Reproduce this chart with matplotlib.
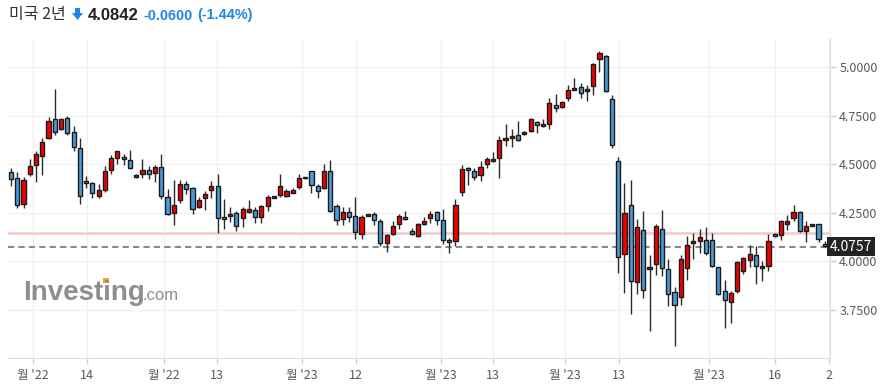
import numpy as np
import matplotlib
matplotlib.use("Agg")
import matplotlib.pyplot as plt
from matplotlib.patches import Polygon, Rectangle
import matplotlib.transforms as mtransforms

plt.rcParams['font.family'] = ['Noto Sans CJK KR', 'DejaVu Sans']

# daily OHLC
opens = [4.458, 4.427, 4.294, 4.448, 4.494, 4.544, 4.633, 4.731, 4.680, 4.736,
         4.664, 4.582, 4.414, 4.402, 4.338, 4.366, 4.469, 4.530, 4.536, 4.520,
         4.433, 4.448, 4.469, 4.453, 4.484, 4.330, 4.248, 4.314, 4.397, 4.376,
         4.278, 4.325, 4.366, 4.386, 4.227, 4.234, 4.247, 4.222, 4.256, 4.264,
         4.227, 4.285, 4.325, 4.340, 4.335, 4.354, 4.383, 4.428, 4.464, 4.388,
         4.376, 4.464, 4.283, 4.217, 4.253, 4.232, 4.139, 4.234, 4.242, 4.206,
         4.093, 4.139, 4.191, 4.227, 4.155, 4.129, 4.191, 4.222, 4.253, 4.211,
         4.108, 4.103, 4.356, 4.479, 4.465, 4.443, 4.500, 4.515, 4.530, 4.623,
         4.633, 4.649, 4.654, 4.669, 4.716, 4.695, 4.705, 4.803, 4.793, 4.839,
         4.880, 4.896, 4.875, 4.901, 5.040, 5.055, 4.834, 4.515, 4.036, 4.289,
         3.893, 4.160, 3.959, 3.985, 4.165, 3.959, 3.841, 3.815, 3.964, 4.093,
         4.103, 4.108, 4.108, 3.970, 3.846, 3.790, 3.846, 3.949, 4.006, 4.031,
         3.964, 3.975, 4.139, 4.134, 4.191, 4.222, 4.253, 4.155, 4.180, 4.191,
         4.088, 4.124]
highs = [4.479, 4.461, 4.434, 4.525, 4.568, 4.633, 4.744, 4.885, 4.740, 4.750,
         4.698, 4.633, 4.441, 4.410, 4.400, 4.489, 4.547, 4.569, 4.551, 4.572,
         4.448, 4.525, 4.489, 4.494, 4.551, 4.371, 4.417, 4.417, 4.412, 4.381,
         4.330, 4.361, 4.412, 4.448, 4.319, 4.278, 4.259, 4.278, 4.314, 4.278,
         4.292, 4.340, 4.335, 4.450, 4.371, 4.376, 4.450, 4.430, 4.464, 4.397,
         4.500, 4.520, 4.294, 4.281, 4.278, 4.330, 4.237, 4.244, 4.253, 4.217,
         4.139, 4.206, 4.242, 4.258, 4.170, 4.196, 4.227, 4.261, 4.258, 4.271,
         4.119, 4.319, 4.494, 4.487, 4.482, 4.515, 4.536, 4.561, 4.644, 4.705,
         4.680, 4.722, 4.669, 4.740, 4.721, 4.731, 4.839, 4.860, 4.823, 4.906,
         4.942, 4.916, 4.906, 5.019, 5.081, 5.060, 4.854, 4.536, 4.402, 4.417,
         4.216, 4.258, 4.031, 4.191, 4.263, 4.011, 3.867, 4.031, 4.129, 4.144,
         4.165, 4.175, 4.144, 3.970, 3.903, 3.846, 4.001, 4.021, 4.083, 4.078,
         4.001, 4.139, 4.144, 4.211, 4.237, 4.289, 4.258, 4.206, 4.191, 4.191,
         4.103, 4.124]
lows = [4.388, 4.273, 4.273, 4.439, 4.409, 4.444, 4.631, 4.650, 4.675, 4.650,
        4.569, 4.295, 4.376, 4.325, 4.325, 4.356, 4.448, 4.501, 4.494, 4.474,
        4.427, 4.427, 4.422, 4.407, 4.319, 4.240, 4.186, 4.299, 4.345, 4.242,
        4.273, 4.263, 4.325, 4.145, 4.165, 4.203, 4.156, 4.175, 4.247, 4.196,
        4.198, 4.259, 4.325, 4.333, 4.330, 4.351, 4.374, 4.426, 4.351, 4.325,
        4.371, 4.253, 4.187, 4.189, 4.201, 4.115, 4.115, 4.232, 4.186, 4.078,
        4.047, 4.134, 4.165, 4.211, 4.134, 4.124, 4.186, 4.198, 4.186, 4.088,
        4.042, 4.078, 4.338, 4.391, 4.417, 4.412, 4.479, 4.511, 4.427, 4.592,
        4.587, 4.618, 4.649, 4.664, 4.659, 4.690, 4.680, 4.767, 4.788, 4.823,
        4.880, 4.839, 4.823, 4.854, 4.973, 4.870, 4.582, 3.942, 3.836, 3.728,
        3.831, 3.810, 3.640, 3.928, 3.923, 3.769, 3.563, 3.774, 3.903, 4.011,
        4.042, 4.031, 3.970, 3.826, 3.656, 3.682, 3.836, 3.934, 3.970, 3.882,
        3.897, 3.949, 4.124, 4.108, 4.160, 4.206, 4.150, 4.098, 4.180, 4.098,
        4.074, 4.042]
closes = [4.422, 4.289, 4.417, 4.489, 4.551, 4.613, 4.721, 4.664, 4.731, 4.659,
          4.587, 4.335, 4.402, 4.350, 4.366, 4.464, 4.530, 4.566, 4.525, 4.479,
          4.443, 4.469, 4.448, 4.484, 4.335, 4.242, 4.289, 4.397, 4.371, 4.268,
          4.314, 4.345, 4.386, 4.222, 4.217, 4.242, 4.184, 4.268, 4.268, 4.227,
          4.283, 4.330, 4.335, 4.386, 4.361, 4.366, 4.428, 4.428, 4.392, 4.361,
          4.464, 4.259, 4.211, 4.253, 4.227, 4.151, 4.227, 4.242, 4.211, 4.093,
          4.134, 4.180, 4.232, 4.217, 4.139, 4.191, 4.206, 4.242, 4.211, 4.108,
          4.098, 4.288, 4.475, 4.469, 4.433, 4.484, 4.525, 4.525, 4.623, 4.633,
          4.644, 4.623, 4.664, 4.731, 4.700, 4.705, 4.813, 4.788, 4.818, 4.880,
          4.890, 4.865, 4.885, 5.014, 5.070, 4.875, 4.597, 4.021, 4.247, 3.898,
          4.175, 3.851, 3.969, 4.180, 3.964, 3.831, 3.774, 4.011, 4.083, 4.103,
          4.124, 4.042, 3.975, 3.831, 3.800, 3.836, 3.995, 4.016, 4.037, 3.975,
          3.975, 4.103, 4.129, 4.206, 4.206, 4.253, 4.155, 4.180, 4.191, 4.114,
          4.078, 4.0757]

prev_close = 4.1442
last_price = 4.0757
yticks = [3.75, 4.0, 4.25, 4.5, 4.75, 5.0]
xtick_pos = [3.56, 12.09, 24.49, 32.96, 46.53, 55.06, 68.64, 77.04, 88.55,
             97.17, 111.55, 122.04, 130.67]
xtick_labels = ["월 '22", "14", "월 '22", "13", "월 '23", "12", "월 '23", "13",
                "월 '23", "13", "월 '23", "16", "2"]

W, H = 885, 392
fig = plt.figure(figsize=(W / 100, H / 100), dpi=100)
ax = fig.add_axes([8 / W, 1 - 357.7 / H, (829.5 - 8) / W, (357.7 - 38) / H])

o = np.array(opens)
h = np.array(highs)
l = np.array(lows)
c = np.array(closes)
x = np.arange(len(o))
up = c >= o
colors = np.where(up, '#f20000', '#4a9bd8')

ax.vlines(x, l, h, color='#2b2b2b', linewidth=1, zorder=2)
bottom = np.minimum(o, c)
height = np.maximum(np.abs(c - o), 0.004)
ax.bar(x, height, bottom=bottom, width=0.66, color=colors,
       edgecolor='#1a1a1a', linewidth=1.0, zorder=3)

ax.axhline(prev_close, color='#f9cccc', linewidth=2, zorder=1)
ax.axhline(last_price, color='#8a8a8a', linewidth=1.5, linestyle=(0, (3, 2)), zorder=1)

ax.set_xlim(-0.48, 130.75)
ax.set_ylim(3.5046, 5.149)

ax.yaxis.tick_right()
ax.set_yticks(yticks)
ax.set_yticklabels(['%.4f' % v for v in yticks])
ax.set_xticks(xtick_pos)
ax.set_xticklabels(xtick_labels)
ax.tick_params(axis='both', colors='#d0d0d0', labelcolor='#5a5a5a',
               labelsize=9, length=4, width=1)
ax.tick_params(axis='y', pad=3)
ax.tick_params(axis='x', pad=4)

ax.grid(True, color='#f1f1f1', linewidth=1)
ax.set_axisbelow(True)
for s in ['top', 'left']:
    ax.spines[s].set_visible(False)
for s in ['right', 'bottom']:
    ax.spines[s].set_color('#dcdcdc')

# last price badge
trans = mtransforms.blended_transform_factory(ax.transAxes, ax.transData)
ax.text(1.0 + 21.5 / (829.5 - 8), last_price, '%.4f' % last_price, transform=trans,
        ha='center', va='center', color='white', fontsize=10,
        bbox=dict(boxstyle='square,pad=0.18', facecolor='#232323', edgecolor='none'),
        clip_on=False, zorder=10)

# header
fig.text(9 / W, 1 - 15 / H, '미국 2년', fontsize=11.5, color='#333333', va='center')
arrow = [(75, 8), (80, 8), (80, 13), (83, 13), (77.5, 20), (72, 13), (75, 13)]
fig.patches.append(Polygon([(px / W, 1 - py / H) for px, py in arrow], closed=True,
                           transform=fig.transFigure, facecolor='#1e88e5',
                           edgecolor='none'))
fig.text(88 / W, 1 - 15 / H, '4.0842', fontsize=12, fontweight='bold',
         color='#222222', va='center', family='Liberation Sans')
fig.text(144 / W, 1 - 15.5 / H, '-0.0600', fontsize=10.4, fontweight='bold',
         color='#1e88e5', va='center', family='Liberation Sans')
fig.text(197 / W, 1 - 15.5 / H, '(-1.44%)', fontsize=10.4, fontweight='bold',
         color='#1e88e5', va='center', family='Liberation Sans')

# watermark
fig.text(23 / W, 1 - 300 / H, 'Investing', fontsize=20, fontweight='bold',
         color='#8e8e8e', va='baseline', family='Liberation Sans')
fig.text(143 / W, 1 - 300 / H, '.com', fontsize=12, color='#8e8e8e',
         va='baseline', family='Liberation Sans')
fig.patches.append(Rectangle((103 / W, 1 - 283 / H), 6 / W, 5 / H,
                             transform=fig.transFigure, facecolor='#f5a623',
                             edgecolor='none'))

fig.savefig('out.png', dpi=100)
